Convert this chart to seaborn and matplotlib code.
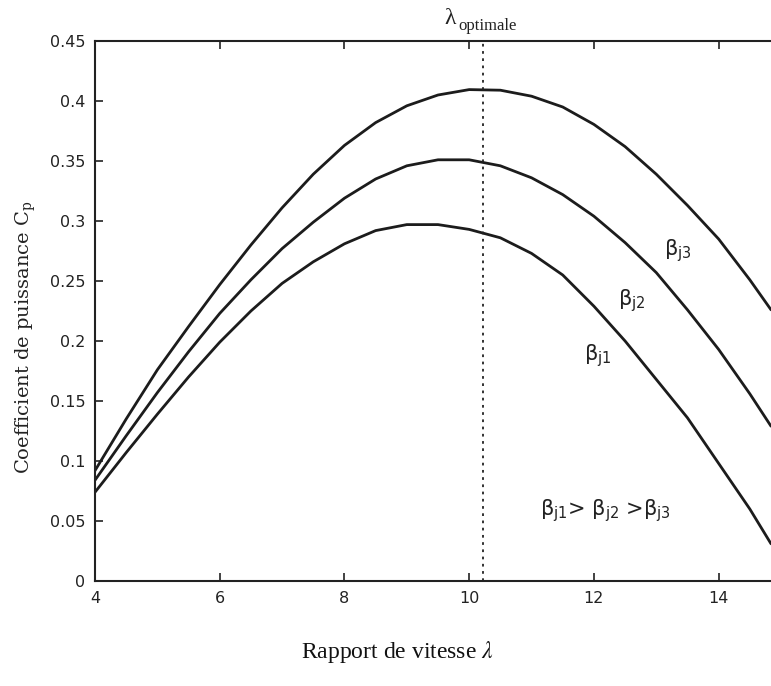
import numpy as np
import pandas as pd
import matplotlib
matplotlib.use("Agg")
import matplotlib.pyplot as plt
import seaborn as sns

# Data
lam = [4.0, 4.5, 5.0, 5.5, 6.0, 6.5, 7.0, 7.5, 8.0, 8.5, 9.0, 9.5, 10.0,
       10.5, 11.0, 11.5, 12.0, 12.5, 13.0, 13.5, 14.0, 14.5, 14.84]
cp_bj3 = [0.092, 0.135, 0.176, 0.212, 0.247, 0.280, 0.311, 0.339, 0.363, 0.382,
          0.396, 0.405, 0.4095, 0.409, 0.404, 0.395, 0.3805, 0.362, 0.339, 0.313,
          0.285, 0.251, 0.226]
cp_bj2 = [0.084, 0.121, 0.157, 0.191, 0.223, 0.251, 0.277, 0.299, 0.319, 0.335,
          0.346, 0.351, 0.351, 0.346, 0.336, 0.322, 0.304, 0.282, 0.257, 0.226,
          0.193, 0.156, 0.129]
cp_bj1 = [0.074, 0.107, 0.139, 0.170, 0.199, 0.225, 0.248, 0.266, 0.281, 0.292,
          0.297, 0.297, 0.293, 0.286, 0.273, 0.255, 0.229, 0.200, 0.168, 0.136,
          0.098, 0.060, 0.031]
series_names = ["bj1", "bj2", "bj3"]
lambda_opt = 10.22
x_ticks = [4, 6, 8, 10, 12, 14]
y_ticks = [0, 0.05, 0.1, 0.15, 0.2, 0.25, 0.3, 0.35, 0.4, 0.45]
y_tick_labels = ["0", "0.05", "0.1", "0.15", "0.2", "0.25", "0.3", "0.35", "0.4", "0.45"]

df = pd.DataFrame({
    "lambda": lam * 3,
    "cp": cp_bj1 + cp_bj2 + cp_bj3,
    "serie": sum([[n] * len(lam) for n in series_names], []),
})

sns.set_theme(style="white")
plt.rcParams["font.family"] = ["DejaVu Sans"]
plt.rcParams["mathtext.fontset"] = "stix"

W, H = 771, 686
fig = plt.figure(figsize=(W / 100, H / 100), dpi=100)
ax = fig.add_axes([95 / W, 1 - 581 / H, (781 - 95) / W, (581 - 41) / H])

sns.lineplot(data=df, x="lambda", y="cp", units="serie", estimator=None,
             color="#1c1c1c", linewidth=2.0, ax=ax, legend=False)

ax.axvline(lambda_opt, color="#222222", linestyle=(0, (1.5, 2.5)), linewidth=1.3)

ax.set_xlim(4, 15)
ax.set_ylim(0, 0.45)
ax.set_xticks(x_ticks)
ax.set_xticklabels([str(t) for t in x_ticks])
ax.set_yticks(y_ticks)
ax.set_yticklabels(y_tick_labels)
ax.tick_params(axis="both", direction="in", length=6, width=1.2, labelsize=11.5,
               colors="#222222", top=True, right=False, bottom=True, left=True)
ax.tick_params(axis="x", pad=7)
ax.tick_params(axis="y", pad=7)
for side in ["left", "bottom", "top"]:
    ax.spines[side].set_color("#222222")
    ax.spines[side].set_linewidth(1.5)
ax.spines["right"].set_visible(False)
ax.set_xlabel("")
ax.set_ylabel("")

serif = ["DejaVu Serif"]
fig.text(26 / W, 1 - 337 / H, r"Coefficient de puissance C$_\mathregular{p}$",
         rotation=90, ha="center", va="center", fontsize=14, family=serif,
         color="#222222", math_fontfamily="dejavuserif")
fig.text(397 / W, 1 - 652 / H, r"Rapport de vitesse $\lambda$",
         ha="center", va="center", fontsize=17, family=["Liberation Serif"],
         color="#111111")

# lambda_optimale label above the axes
fig.text(450 / W, 1 - 19 / H, "λ", ha="center", va="center", fontsize=17,
         family=["Liberation Serif"], color="#222222")
fig.text(458 / W, 1 - 30 / H, "optimale", ha="left", va="baseline", fontsize=12,
         family=["Liberation Serif"], color="#222222")

lab_kw = dict(ha="center", va="center", fontsize=15, color="#222222",
              family=["DejaVu Sans"], math_fontfamily="dejavusans")
ax.text(13.34, 0.275, r"β$_\mathregular{j3}$", **lab_kw)
ax.text(12.60, 0.234, r"β$_\mathregular{j2}$", **lab_kw)
ax.text(12.06, 0.188, r"β$_\mathregular{j1}$", **lab_kw)
ax.text(12.19, 0.059,
        r"β$_\mathregular{j1}$> β$_\mathregular{j2}$ >β$_\mathregular{j3}$",
        **lab_kw)

fig.savefig("out.png", dpi=100)
